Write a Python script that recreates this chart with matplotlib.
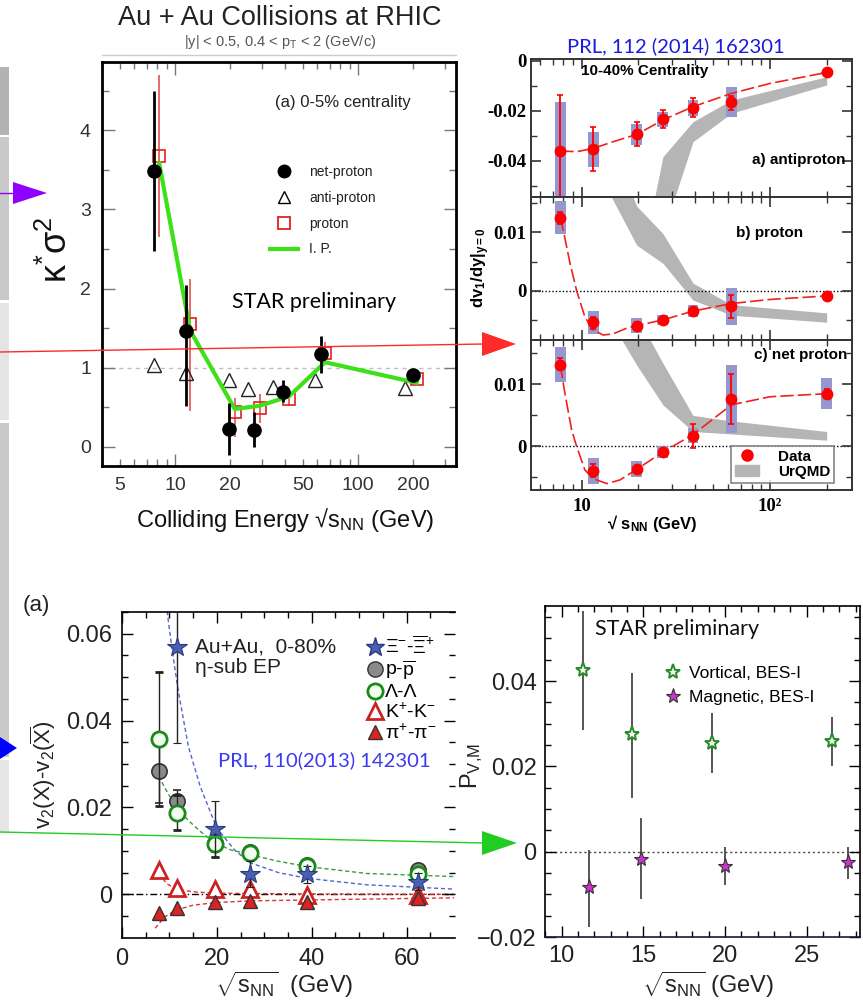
import numpy as np
import matplotlib
matplotlib.use('Agg')
import matplotlib.pyplot as plt
from matplotlib.patches import Rectangle, Polygon, Patch
from matplotlib.lines import Line2D

plt.rcParams['font.family'] = ['Liberation Sans', 'DejaVu Sans']
plt.rcParams['mathtext.fontset'] = 'custom'
plt.rcParams['mathtext.rm'] = 'Liberation Sans'
plt.rcParams['mathtext.it'] = 'Liberation Sans:italic'
plt.rcParams['mathtext.bf'] = 'Liberation Sans:bold'
plt.rcParams['mathtext.sf'] = 'Liberation Sans'

# ---------------- kurtosis panel (top left) ----------------
E_NP = [7.7, 11.5, 19.6, 27, 39, 62.4, 200]
np_val = [3.48, 1.46, 0.23, 0.22, 0.70, 1.17, 0.91]
np_lo = [2.47, 0.52, -0.10, 0.00, 0.57, 0.94, 0.86]
np_hi = [4.50, 2.05, 0.55, 0.44, 0.85, 1.40, 0.96]

E_P = [8.2, 12.1, 21.2, 29.1, 42, 66, 209]
p_val = [3.67, 1.55, 0.44, 0.49, 0.60, 1.19, 0.86]
p_lo = [2.65, 0.45, 0.13, 0.30, 0.52, 1.05, 0.82]
p_hi = [4.70, 2.12, 0.62, 0.67, 0.68, 1.33, 0.90]

E_AP = [7.7, 11.5, 19.7, 25, 34.5, 58.5, 180]
ap_val = [1.03, 0.94, 0.84, 0.73, 0.76, 0.85, 0.74]

ip_val = [3.58, 1.47, 0.48, 0.52, 0.64, 1.07, 0.81]

# ---------------- directed flow panels (top right) ----------------
E2 = [7.7, 11.5, 19.6, 27, 39, 62.4, 200]

a_val = [-0.0361, -0.0353, -0.0295, -0.0233, -0.0188, -0.0164, -0.0047]
a_elo = [-0.0580, -0.0441, -0.0343, -0.0268, -0.0224, -0.0197, -0.0050]
a_ehi = [-0.0137, -0.0267, -0.0247, -0.0196, -0.0151, -0.0141, -0.0044]
a_blo = [-0.0600, -0.0424, -0.0336, -0.0264, -0.0221, -0.0227, -0.0049]
a_bhi = [-0.0167, -0.0284, -0.0255, -0.0204, -0.0157, -0.0104, -0.0045]

b_val = [0.0125, -0.0054, -0.0060, -0.0050, -0.0035, -0.0026, -0.0009]
b_elo = [0.0115, -0.0065, -0.0066, -0.0055, -0.0040, -0.0047, -0.0011]
b_ehi = [0.0135, -0.0045, -0.0054, -0.0045, -0.0030, -0.0007, -0.0007]
b_blo = [0.0097, -0.0074, -0.0073, -0.0059, -0.0045, -0.0059, -0.0010]
b_bhi = [0.0153, -0.0034, -0.0046, -0.0042, -0.0025, 0.0005, -0.0008]

c_val = [0.0131, -0.0039, -0.0037, -0.0009, 0.0016, 0.0076, 0.0085]
c_elo = [0.0123, -0.0049, -0.0042, -0.0012, -0.0003, 0.0036, 0.0079]
c_ehi = [0.0142, -0.0029, -0.0032, -0.0006, 0.0036, 0.0117, 0.0092]
c_blo = [0.0103, -0.0061, -0.0050, -0.0018, 0.0006, 0.0021, 0.0061]
c_bhi = [0.0161, -0.0019, -0.0024, 0.0000, 0.0030, 0.0132, 0.0110]

# UrQMD bands
ua_x = [19.6, 27, 39, 62.4, 200]
ua_lo = [-0.110, -0.069, -0.0324, -0.0210, -0.0097]
ua_hi = [-0.090, -0.0384, -0.0244, -0.0157, -0.0064]
ub_x = [11.5, 19.6, 27, 39, 62.4, 200]
ub_lo = [0.022, 0.0078, 0.0047, -0.0016, -0.0042, -0.0054]
ub_hi = [0.033, 0.0145, 0.0098, 0.0013, -0.0024, -0.0038]
uc_x = [11.5, 19.6, 27, 39, 62.4, 200]
uc_lo = [0.025, 0.0131, 0.0067, 0.0024, 0.0020, 0.0010]
uc_hi = [0.035, 0.0211, 0.0134, 0.0050, 0.0041, 0.0024]

# dashed fits
fa_x = [7.7, 9.4, 11.5, 14.7, 19.6, 27, 39, 62.4, 100, 200]
fa_y = [-0.0361, -0.0364, -0.0351, -0.0324, -0.0295, -0.0237, -0.0184, -0.0131, -0.0091, -0.0047]
fb_x = [7.7, 8.05, 8.67, 9.4, 10.4, 11.5, 13.0, 14.7, 17.4, 19.6, 27, 39, 62.4, 100, 200]
fb_y = [0.0125, 0.0098, 0.0047, 0.0, -0.0045, -0.0067, -0.0076, -0.0074, -0.0064, -0.0060,
        -0.0050, -0.0035, -0.0022, -0.0015, -0.0009]
fc_x = [7.7, 8.15, 8.85, 9.4, 10.4, 11.5, 13.6, 16, 19.6, 27, 39, 62.4, 100, 200]
fc_y = [0.0131, 0.0085, 0.0026, 0.0, -0.0038, -0.0052, -0.0060, -0.0054, -0.0037, -0.0009,
        0.0019, 0.0067, 0.0080, 0.0085]

# ---------------- v2 difference panel (bottom left) ----------------
E3 = [7.7, 11.5, 19.6, 27, 39, 62.4]
xi_x = [11.5, 19.6, 27, 39, 62.4]
xi_val = [0.0569, 0.0150, 0.0046, 0.0046, 0.0029]
xi_err = [0.0220, 0.0065, 0.0030, 0.0020, 0.0020]
pp_val = [0.0285, 0.0215, 0.0118, 0.0098, 0.0068, 0.0056]
pp_err = [0.0075, 0.0025, 0.0020, 0.0012, 0.0010, 0.0010]
la_val = [0.0358, 0.0188, 0.0115, 0.0096, 0.0065, 0.0047]
la_err = [0.0155, 0.0040, 0.0030, 0.0012, 0.0010, 0.0010]
kk_val = [0.0056, 0.0014, 0.0012, 0.0012, -0.0002, -0.0002]
pi_val = [-0.0044, -0.0032, -0.0017, -0.0015, -0.0017, -0.0009]

fit_xi_x = [9.5, 10, 11, 12, 14, 16.5, 20, 24, 27.2, 33, 39, 51.6, 70]
fit_xi_y = [0.0652, 0.0610, 0.0530, 0.0460, 0.0340, 0.0248, 0.0152, 0.0099, 0.0072, 0.0050,
            0.0037, 0.0022, 0.0012]
fit_la_x = [7.7, 9.5, 11.4, 14, 16.5, 19.6, 23, 27.2, 33, 39.1, 51.6, 70]
fit_la_y = [0.0272, 0.0236, 0.0202, 0.0170, 0.0145, 0.0118, 0.0102, 0.0091, 0.0076, 0.0064,
            0.0048, 0.0041]
fit_k_x = [7.7, 9.5, 12, 16, 19.6, 27, 39, 70]
fit_k_y = [0.0048, 0.0024, 0.0010, 0.0005, 0.0003, 0.0002, 0.0001, 0.0]
fit_pi_x = [7.0, 9.0, 11.4, 15, 19.6, 27, 39, 70]
fit_pi_y = [-0.0078, -0.0052, -0.0036, -0.0025, -0.0019, -0.0015, -0.0013, -0.0008]

# ---------------- polarization panel (bottom right) ----------------
vx = [11.29, 14.33, 19.22, 26.53]
vy = [0.0427, 0.0275, 0.0255, 0.0260]
v_lo = [0.0286, 0.0125, 0.0184, 0.0200]
v_hi = [0.0565, 0.0420, 0.0325, 0.0315]
mx = [11.69, 14.84, 20.0, 27.55]
my = [-0.0082, -0.0016, -0.0034, -0.0024]
m_lo = [-0.0176, -0.0112, -0.0078, -0.0063]
m_hi = [0.0005, 0.0078, 0.0012, 0.0012]

W, H = 863, 1002
fig = plt.figure(figsize=(W / 100, H / 100), dpi=100)


def box(x0, y0, x1, y1):
    return [x0 / W, 1 - y1 / H, (x1 - x0) / W, (y1 - y0) / H]


def fp(x, y):
    return (x / W, 1 - y / H)


def ftext(x, y, s, **kw):
    fig.text(x / W, 1 - y / H, s, **kw)


def asym(val, lo, hi):
    val = np.asarray(val)
    return [val - np.asarray(lo), np.asarray(hi) - val]


# side strip and arrows
for y0, y1, col in [(67, 135, '#b3b3b3'), (137, 300, '#c9c9c9'), (303, 420, '#e4e4e4'),
                    (423, 757, '#c9c9c9'), (760, 833, '#e6e6e6')]:
    fig.add_artist(Rectangle(fp(0, y1), 9 / W, (y1 - y0) / H, transform=fig.transFigure,
                             color=col, lw=0, zorder=0))


def arrow(x0, y0, x1, y1, col):
    fig.add_artist(Line2D([x0 / W, x1 / W], [1 - y0 / H, 1 - y1 / H], color=col, lw=1,
                          transform=fig.transFigure, zorder=20))


def head(pts, col):
    fig.add_artist(Polygon([fp(x, y) for x, y in pts], closed=True, transform=fig.transFigure,
                           color=col, lw=0, zorder=20))


arrow(0, 193, 14, 193, '#9000ff')
head([(13, 182), (13, 204), (47, 193)], '#9000ff')
arrow(0, 352, 484, 344, '#ff2a2a')
head([(482, 332), (482, 356), (516, 344)], '#ff2a2a')
head([(0, 737), (0, 759), (17, 748)], '#0000ff')
arrow(0, 832, 484, 843, '#22cc22')
head([(482, 831), (482, 855), (517, 843)], '#22cc22')

# ================= top left =================
ax1 = fig.add_axes(box(102, 62, 456, 466))
ax1.set_xscale('log')
ax1.set_xlim(3.99, 343)
ax1.set_ylim(-0.24, 4.86)
ax1.axhline(1, color='#c0c0c0', ls=(0, (3, 3)), lw=1, zorder=0)
ax1.errorbar(E_P, p_val, yerr=asym(p_val, p_lo, p_hi), fmt='s', ms=8, mfc='none', mec='#e02020',
             mew=1.2, ecolor='#e06060', elinewidth=1.3, capsize=0, zorder=2)
ax1.plot(E_AP, ap_val, '^', ms=9.5, mfc='none', mec='#222222', mew=1, zorder=2)
ax1.plot(E_P, ip_val, color='#3de01a', lw=3, zorder=3)
ax1.errorbar(E_NP, np_val, yerr=asym(np_val, np_lo, np_hi), fmt='o', ms=9.5, color='black',
             elinewidth=2, capsize=0, zorder=4)

ax1.set_xticks([10, 100], labels=['10', '100'])
minor1 = [4, 5, 6, 7, 8, 9, 20, 30, 40, 50, 60, 70, 80, 90, 200, 300]
ax1.set_xticks(minor1, labels=[str(v) if v in (5, 20, 50, 200) else '' for v in minor1],
               minor=True)
ax1.set_yticks([0, 1, 2, 3, 4])
ax1.set_yticks(np.arange(0.5, 4.6, 1.0), minor=True)
ax1.tick_params(which='both', direction='in', top=True, right=True, color='#777777',
                labelsize=14, labelcolor='#333333', pad=8)
ax1.tick_params(which='major', length=9, width=1)
ax1.tick_params(which='minor', length=5, width=1)
for s in ax1.spines.values():
    s.set_linewidth(2)
ax1.text(0.68, 0.9, '(a) 0-5% centrality', transform=ax1.transAxes, ha='center', va='center',
         fontsize=12, color='#222222')
ax1.text(0.6, 0.406, 'STAR preliminary', transform=ax1.transAxes, ha='center', va='center',
         fontsize=15.5, family=['Lato', 'DejaVu Sans'], color='black')
leg1 = ax1.legend([Line2D([], [], marker='o', ls='none', color='black', ms=9),
                   Line2D([], [], marker='^', ls='none', mfc='none', mec='black', ms=9),
                   Line2D([], [], marker='s', ls='none', mfc='none', mec='#e02020', ms=8, mew=1.3),
                   Line2D([], [], color='#3de01a', lw=3)],
                  ['net-proton', 'anti-proton', 'proton', 'I. P.'],
                  loc='upper left', bbox_to_anchor=(0.475, 0.745), frameon=False, fontsize=10,
                  handlelength=2.0, handletextpad=0.8, labelspacing=0.85, borderpad=0,
                  borderaxespad=0)
for t in leg1.get_texts():
    t.set_color('#222222')

ftext(280, 18, 'Au + Au Collisions at RHIC', ha='center', va='center', fontsize=19.5,
      color='#222222')
ftext(280, 42, '|y| < 0.5, 0.4 < p$_\\mathrm{T}$ < 2 (GeV/c)', ha='center', va='center',
      fontsize=10.5, color='#555555')
fig.add_artist(Line2D([102 / W, 456 / W], [1 - 55 / H, 1 - 55 / H], color='#cccccc', lw=1,
                      transform=fig.transFigure))
ftext(285, 520, 'Colliding Energy √s$_\\mathrm{NN}$ (GeV)', ha='center', va='center',
      fontsize=17, color='#111111')
ftext(57, 250, 'κ$^{*}$σ$^{2}$', ha='center', va='center', rotation=90, fontsize=26,
      color='#111111')

# ================= top right =================
ax_a = fig.add_axes(box(531, 59, 852, 197))
ax_b = fig.add_axes(box(531, 197, 852, 340))
ax_c = fig.add_axes(box(531, 340, 852, 490))
serif_bold = {'family': 'Liberation Serif', 'weight': 'bold', 'size': 13.5}


def boxes(ax, xs, lo, hi, hw=0.029):
    for x, l, h in zip(xs, lo, hi):
        ax.add_patch(Rectangle((x * 10 ** -hw, l), x * 10 ** hw - x * 10 ** -hw, h - l,
                               color='#9797d0', lw=0, zorder=2))


panels = [(ax_a, a_val, a_elo, a_ehi, a_blo, a_bhi, ua_x, ua_lo, ua_hi, fa_x, fa_y,
           (-0.05452, 0.00068)),
          (ax_b, b_val, b_elo, b_ehi, b_blo, b_bhi, ub_x, ub_lo, ub_hi, fb_x, fb_y,
           (-0.00845, 0.01606)),
          (ax_c, c_val, c_elo, c_ehi, c_blo, c_bhi, uc_x, uc_lo, uc_hi, fc_x, fc_y,
           (-0.00703, 0.01715))]
for ax, val, elo, ehi, blo, bhi, ux, ulo, uhi, fx, fy, ylim in panels:
    ax.set_xscale('log')
    ax.set_xlim(5.38, 272.6)
    ax.set_ylim(*ylim)
    ax.fill_between(ux, ulo, uhi, color='#b5b5b5', lw=0, zorder=1)
    boxes(ax, E2, blo, bhi)
    ax.plot(fx, fy, color='#ee2222', lw=1.2, dashes=(8, 2.5), zorder=3)
    ax.errorbar(E2, val, yerr=asym(val, elo, ehi), fmt='o', ms=7.5, color='#ff0000',
                elinewidth=1.3, capsize=2.5, capthick=1.2, zorder=4)
    ax.set_xticks([10, 100])
    ax.set_xticks([6, 7, 8, 9, 20, 30, 40, 50, 60, 70, 80, 90, 200], minor=True)
    ax.tick_params(which='both', direction='in', top=True, right=True, color='#333333')
    ax.tick_params(which='major', length=7, width=1.2)
    ax.tick_params(which='minor', length=4, width=1)
    ax.tick_params(axis='x', which='both', labelbottom=False)
    for s in ax.spines.values():
        s.set_linewidth(1.4)
        s.set_color('#333333')

ax_b.axhline(0, color='black', ls=(0, (1, 1.5)), lw=1, zorder=1)
ax_c.axhline(0, color='black', ls=(0, (1, 1.5)), lw=1, zorder=1)

ax_a.set_yticks([-0.04, -0.02, 0], labels=['-0.04', '-0.02', '0'])
ax_a.set_yticks([-0.05, -0.03, -0.01], minor=True)
ax_b.set_yticks([0, 0.01], labels=['0', '0.01'])
ax_b.set_yticks([-0.005, 0.005, 0.015], minor=True)
ax_c.set_yticks([0, 0.01], labels=['0', '0.01'])
ax_c.set_yticks([-0.005, 0.005, 0.015], minor=True)
ax_c.set_xticks([10, 100], labels=['10', '10²'])
ax_c.tick_params(axis='x', which='major', labelbottom=True, pad=6)
for ax in (ax_a, ax_b, ax_c):
    for lab in ax.get_yticklabels() + ax.get_xticklabels():
        lab.set_fontproperties(serif_bold)

ax_a.text(0.155, 0.91, '10-40% Centrality', transform=ax_a.transAxes, ha='left', va='center',
          fontsize=11, weight='bold')
ax_a.text(0.98, 0.27, 'a) antiproton', transform=ax_a.transAxes, ha='right', va='center',
          fontsize=11, weight='bold')
ax_b.text(0.64, 0.75, 'b) proton', transform=ax_b.transAxes, ha='left', va='center',
          fontsize=11, weight='bold')
ax_c.text(0.985, 0.9, 'c) net proton', transform=ax_c.transAxes, ha='right', va='center',
          fontsize=11, weight='bold')
leg2 = ax_c.legend([Line2D([], [], marker='o', ls='none', color='#ff0000', ms=8),
                    Patch(color='#b5b5b5')], ['Data', 'UrQMD'], loc='lower right',
                   bbox_to_anchor=(0.944, 0.047), borderaxespad=0, frameon=True, fancybox=False,
                   edgecolor='#666666', prop={'weight': 'bold', 'size': 11}, handlelength=1.6,
                   handletextpad=1.2, labelspacing=0.1, borderpad=0.25)
leg2.get_frame().set_linewidth(1.2)

ftext(676, 46, 'PRL, 112 (2014) 162301', ha='center', va='center', fontsize=14.5,
      family=['Lato', 'DejaVu Sans'], color='#1a1ae0')
ftext(481, 268, 'dv$_\\mathbf{1}$/dy|$_\\mathbf{y=0}$', ha='center', va='center', rotation=90,
      fontsize=12, weight='bold')
ftext(652, 523, '√ s$_\\mathbf{NN}$ (GeV)', ha='center', va='center', fontsize=12, weight='bold')

# ================= bottom left =================
ax3 = fig.add_axes(box(122, 612, 455, 938))
ax3.set_xlim(0, 70.2)
ax3.set_ylim(-0.01005, 0.0649)
ax3.axhline(0, color='black', ls=(0, (5, 2, 1, 2)), lw=1, zorder=1)
ax3.plot(fit_xi_x, fit_xi_y, color='#5566cc', lw=1, dashes=(3, 2), zorder=1)
ax3.plot(fit_la_x, fit_la_y, color='#3c9c3c', lw=1, dashes=(3, 2), zorder=1)
ax3.plot(fit_k_x, fit_k_y, color='#dd3333', lw=1, dashes=(3, 2), zorder=1)
ax3.plot(fit_pi_x, fit_pi_y, color='#dd3333', lw=1, dashes=(3, 2), zorder=1)
ebar = dict(ecolor='#222222', elinewidth=1, capsize=3, capthick=1)
ax3.errorbar(E3, pp_val, yerr=pp_err, fmt='o', ms=11, mfc='#8a8a8a', mec='#333333', mew=1.2,
             zorder=3, **ebar)
ax3.errorbar(E3, la_val, yerr=la_err, fmt='o', ms=11, mfc='#f2fff0', mec='#1a8a1a', mew=2,
             zorder=4, **ebar)
ax3.plot(E3, kk_val, '^', ms=11, mfc='white', mec='#cc2222', mew=2, zorder=3)
ax3.plot(E3, pi_val, '^', ms=10, mfc='#dd2222', mec='#333333', mew=1, zorder=3)
ax3.errorbar(xi_x, xi_val, yerr=xi_err, fmt='*', ms=15, mfc='#4a5fb0', mec='#2a3a80', mew=0.8,
             zorder=5, **ebar)
ax3.set_xticks([0, 20, 40, 60])
ax3.set_xticks(np.arange(5, 70, 5), minor=True)
ax3.set_yticks([0, 0.02, 0.04, 0.06], labels=['0', '0.02', '0.04', '0.06'])
ax3.set_yticks(np.arange(-0.005, 0.065, 0.005), minor=True)
ax3.tick_params(which='both', direction='in', top=True, right=True, labelsize=17,
                labelcolor='#222222', pad=7)
ax3.tick_params(which='major', length=8, width=1)
ax3.tick_params(which='minor', length=4, width=1)
ax3.spines['right'].set_visible(False)
for s in ('left', 'bottom', 'top'):
    ax3.spines[s].set_linewidth(1.2)
ax3.text(0.22, 0.86, 'Au+Au,  0-80%\nη-sub EP', transform=ax3.transAxes, ha='left', va='center',
         fontsize=15, color='#222222', linespacing=1.1)
ax3.text(0.288, 0.546, 'PRL, 110(2013) 142301', transform=ax3.transAxes, ha='left',
         va='center', fontsize=14.5, family=['Lato', 'DejaVu Sans'], color='#3a3aee')
leg3 = ax3.legend([Line2D([], [], marker='*', ls='none', ms=14, mfc='#4a5fb0', mec='#2a3a80'),
                   Line2D([], [], marker='o', ls='none', ms=11, mfc='#8a8a8a', mec='#333333'),
                   Line2D([], [], marker='o', ls='none', ms=11, mfc='#f2fff0', mec='#1a8a1a',
                          mew=2),
                   Line2D([], [], marker='^', ls='none', ms=11, mfc='white', mec='#cc2222',
                          mew=2),
                   Line2D([], [], marker='^', ls='none', ms=10, mfc='#dd2222', mec='#333333')],
                  ['$\\Xi^{-}$-$\\overline{\\Xi}^{+}$', 'p-$\\overline{\\mathrm{p}}$', 'Λ-Λ',
                   'K$^{+}$-K$^{-}$', 'π$^{+}$-π$^{-}$'],
                  loc='upper left', bbox_to_anchor=(0.735, 0.93), frameon=False, fontsize=14,
                  handlelength=0.8, handletextpad=0.15, labelspacing=0.07, borderpad=0,
                  borderaxespad=0)
ftext(36, 605, '(a)', ha='center', va='center', fontsize=16, color='#222222')
ftext(43, 775, 'v$_2$(X)-v$_2$($\\overline{\\mathrm{X}}$)', ha='center', va='center',
      rotation=90, fontsize=16, color='#222222')
ftext(284, 985, '$\\sqrt{\\mathrm{s_{NN}}}$  (GeV)', ha='center', va='center', fontsize=17,
      color='#222222')

# ================= bottom right =================
ax4 = fig.add_axes(box(545, 606, 860, 937))
ax4.set_xlim(8.98, 28.27)
ax4.set_ylim(-0.02, 0.0576)
ax4.axhline(0, color='#444444', ls=(0, (1.5, 2)), lw=1, zorder=1)
ax4.errorbar(vx, vy, yerr=asym(vy, v_lo, v_hi), fmt='*', ms=11, mfc='#eef8ea', mec='#2a8a2a',
             mew=1.4, ecolor='#555555', elinewidth=1.4, capsize=0, zorder=3)
ax4.errorbar(mx, my, yerr=asym(my, m_lo, m_hi), fmt='*', ms=11, mfc='#cc33cc', mec='#333333',
             mew=0.8, ecolor='#555555', elinewidth=1.4, capsize=0, zorder=3)
ax4.set_xticks([10, 15, 20, 25])
ax4.set_xticks(np.arange(9, 29, 1), minor=True)
ax4.set_yticks([-0.02, 0, 0.02, 0.04], labels=['−0.02', '0', '0.02', '0.04'])
ax4.set_yticks(np.arange(-0.015, 0.056, 0.005), minor=True)
ax4.tick_params(which='both', direction='in', top=True, right=True, labelsize=17,
                labelcolor='#222222', pad=6)
ax4.tick_params(which='major', length=8, width=1)
ax4.tick_params(which='minor', length=4, width=1)
for s in ax4.spines.values():
    s.set_linewidth(1.2)
ax4.spines['bottom'].set_color('#1a1a3a')
ax4.text(0.158, 0.93, 'STAR preliminary', transform=ax4.transAxes, ha='left', va='center',
         fontsize=15.5, family=['Lato', 'DejaVu Sans'], color='#111111')
ax4.legend([Line2D([], [], marker='*', ls='none', ms=11, mfc='#eef8ea', mec='#2a8a2a', mew=1.4),
            Line2D([], [], marker='*', ls='none', ms=11, mfc='#cc33cc', mec='#333333', mew=0.8)],
           ['Vortical, BES-I', 'Magnetic, BES-I'], loc='upper left', bbox_to_anchor=(0.38, 0.82),
           frameon=False, fontsize=12.5, handlelength=0.9, handletextpad=0.5, labelspacing=0.55,
           borderpad=0, borderaxespad=0)
ftext(472, 766, 'P$_\\mathrm{V{,}M}$', ha='center', va='center', rotation=90, fontsize=17,
      color='#222222')
ftext(708, 985, '$\\sqrt{\\mathrm{s_{NN}}}$ (GeV)', ha='center', va='center', fontsize=17,
      color='#222222')

fig.savefig('out.png', dpi=100)
